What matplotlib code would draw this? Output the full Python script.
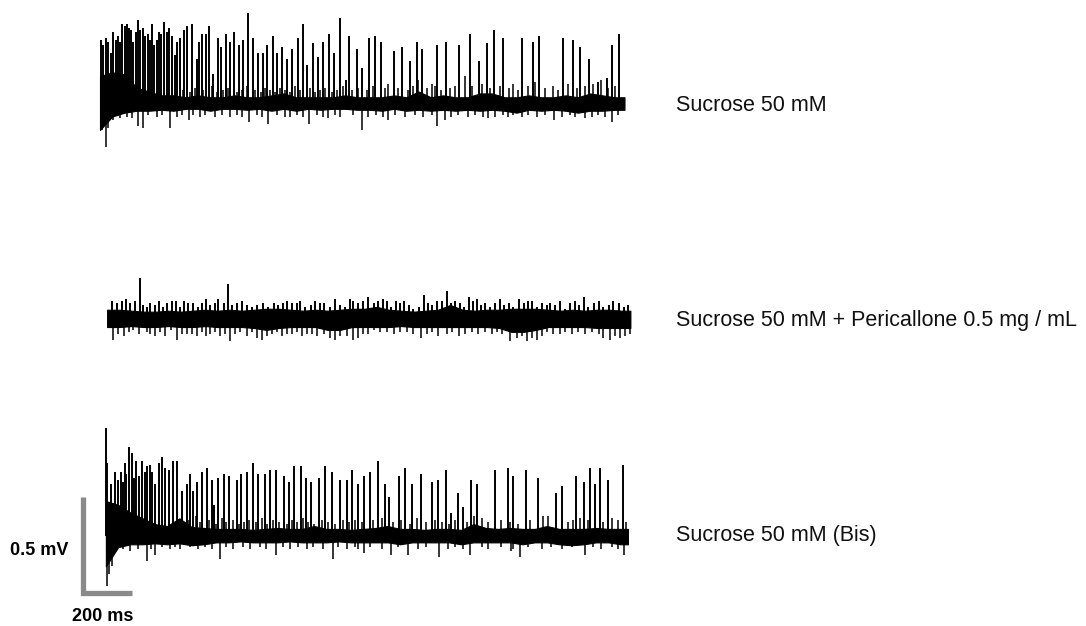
import numpy as np
import matplotlib.pyplot as plt

# ---- recordings (time in ms from start of sweep, amplitude in mV) ----

# solid noise core of each sweep, one value every 50 ms (0 .. 2100 ms)
env_t = np.arange(0, 2150, 50)

sucrose_hi = [0.14, 0.16, 0.15, 0.08, 0.06, 0.04, 0.04, 0.03, 0.04, 0.03, 0.03,
              0.04, 0.03, 0.03, 0.04, 0.05, 0.03, 0.03, 0.03, 0.03, 0.04, 0.03,
              0.03, 0.03, 0.04, 0.03, 0.06, 0.03, 0.04, 0.03, 0.03, 0.05, 0.05,
              0.03, 0.03, 0.04, 0.03, 0.03, 0.04, 0.03, 0.05, 0.04, 0.03]
sucrose_lo = [-0.14, -0.07, -0.05, -0.04, -0.04, -0.035, -0.04, -0.03, -0.03, -0.04, -0.03,
              -0.03, -0.035, -0.03, -0.04, -0.03, -0.04, -0.03, -0.035, -0.03, -0.03, -0.035,
              -0.035, -0.04, -0.03, -0.04, -0.035, -0.04, -0.035, -0.04, -0.035, -0.04, -0.035,
              -0.04, -0.05, -0.035, -0.04, -0.035, -0.04, -0.05, -0.04, -0.04, -0.035]

peri_hi = [0.045, 0.045, 0.04, 0.035, 0.035, 0.04, 0.035, 0.04, 0.045, 0.04, 0.045,
           0.04, 0.045, 0.05, 0.05, 0.045, 0.04, 0.045, 0.04, 0.045, 0.05, 0.05,
           0.06, 0.045, 0.04, 0.035, 0.04, 0.045, 0.07, 0.045, 0.04, 0.045, 0.045,
           0.05, 0.05, 0.05, 0.045, 0.04, 0.045, 0.04, 0.045, 0.045, 0.04]
peri_lo = [-0.045, -0.045, -0.04, -0.045, -0.045, -0.04, -0.045, -0.045, -0.04, -0.045, -0.045,
           -0.045, -0.05, -0.06, -0.05, -0.045, -0.045, -0.045, -0.06, -0.06, -0.045, -0.045,
           -0.045, -0.045, -0.04, -0.045, -0.045, -0.045, -0.045, -0.045, -0.045, -0.045, -0.05,
           -0.07, -0.07, -0.06, -0.045, -0.045, -0.045, -0.045, -0.05, -0.05, -0.05]

bis_hi = [0.18, 0.16, 0.12, 0.09, 0.06, 0.05, 0.09, 0.045, 0.04, 0.035, 0.035,
          0.035, 0.03, 0.035, 0.04, 0.035, 0.035, 0.05, 0.035, 0.035, 0.03,
          0.035, 0.04, 0.05, 0.035, 0.035, 0.03, 0.035, 0.035, 0.03, 0.06, 0.04,
          0.035, 0.04, 0.035, 0.035, 0.05, 0.035, 0.035, 0.035, 0.04, 0.035, 0.035]
bis_lo = [-0.16, -0.06, -0.045, -0.045, -0.04, -0.045, -0.04, -0.05, -0.045, -0.035, -0.035,
          -0.03, -0.035, -0.035, -0.035, -0.03, -0.035, -0.035, -0.035, -0.03, -0.035,
          -0.035, -0.035, -0.035, -0.045, -0.035, -0.035, -0.035, -0.035, -0.045, -0.035, -0.035,
          -0.035, -0.035, -0.045, -0.035, -0.035, -0.045, -0.05, -0.045, -0.035, -0.035, -0.045]

# spikes (peak time, peak amplitude)
sucrose_spk_t = [3, 14, 25, 34, 44, 54, 64, 75, 82, 91,
                 101, 109, 118, 128, 136, 146, 154, 163, 174, 184,
                 194, 204, 212, 222, 231, 241, 250, 262, 272, 282,
                 292, 306, 316, 326, 344, 356, 374, 394, 405, 415,
                 431, 445, 462, 480, 492, 513, 530, 548, 567, 585,
                 605, 623, 646, 664, 683, 704, 721, 741, 762, 782,
                 809, 830, 843, 868, 891, 909, 936, 956, 979, 1004,
                 1017, 1047, 1070, 1098, 1122, 1146, 1200, 1233, 1264, 1292,
                 1312, 1377, 1410, 1466, 1509, 1546, 1577, 1607, 1645, 1723,
                 1765, 1792, 1890, 1931, 1959, 1995, 2030, 2070, 2087, 2117]
sucrose_spk_v = [0.33, 0.30, 0.34, 0.32, 0.26, 0.37, 0.33, 0.35, 0.32, 0.41,
                 0.40, 0.41, 0.39, 0.38, 0.32, 0.37, 0.43, 0.38, 0.39, 0.35,
                 0.36, 0.33, 0.41, 0.30, 0.33, 0.37, 0.36, 0.42, 0.37, 0.39,
                 0.35, 0.25, 0.32, 0.34, 0.38, 0.40, 0.41, 0.23, 0.32, 0.36,
                 0.36, 0.40, 0.15, 0.34, 0.29, 0.36, 0.32, 0.37, 0.30, 0.33,
                 0.47, 0.34, 0.26, 0.26, 0.30, 0.35, 0.26, 0.29, 0.23, 0.28,
                 0.34, 0.41, 0.20, 0.31, 0.24, 0.32, 0.36, 0.26, 0.44, 0.12,
                 0.35, 0.28, 0.18, 0.34, 0.35, 0.32, 0.27, 0.29, 0.22, 0.32,
                 0.28, 0.30, 0.32, 0.30, 0.36, 0.22, 0.31, 0.38, 0.34, 0.34,
                 0.32, 0.35, 0.34, 0.33, 0.29, 0.23, 0.11, 0.13, 0.30, 0.36]
# small upward deflections riding on the noise
sucrose_up_t = [340, 367, 388, 422, 455, 476, 503, 524, 558, 578,
                598, 632, 655, 673, 694, 714, 734, 755, 775, 796,
                816, 857, 877, 898, 918, 945, 966, 993, 1027,
                1054, 1088, 1115, 1162, 1176, 1214, 1258, 1278, 1298, 1336,
                1356, 1366, 1391, 1428, 1448, 1489, 1519, 1557, 1591, 1632,
                1668, 1686, 1706, 1747, 1774, 1815, 1849, 1870, 1910, 1948,
                1978, 2012, 2046, 2074, 2101]
sucrose_up_v = [0.07, 0.06, 0.08, 0.07, 0.09, 0.06, 0.07, 0.08, 0.06, 0.07,
                0.09, 0.07, 0.06, 0.08, 0.07, 0.06, 0.08, 0.07, 0.06, 0.09,
                0.07, 0.08, 0.06, 0.07, 0.08, 0.06, 0.07, 0.09, 0.07,
                0.08, 0.07, 0.09, 0.08, 0.10, 0.08, 0.07, 0.09, 0.12, 0.08,
                0.10, 0.09, 0.07, 0.08, 0.09, 0.14, 0.09, 0.10, 0.08, 0.09,
                0.08, 0.10, 0.07, 0.09, 0.11, 0.08, 0.09, 0.07, 0.10, 0.08,
                0.09, 0.10, 0.12, 0.08, 0.09]
sucrose_dip_t = [7, 23, 34, 55, 82, 109, 129, 156, 177, 197, 231, 251, 286, 313,
                 333, 363, 381, 408, 428, 469, 496, 530, 558, 578, 608, 639, 660,
                 684, 721, 755, 775, 802, 830, 853, 884, 911, 932, 959, 979, 1033,
                 1070, 1094, 1128, 1156, 1176, 1203, 1244, 1285, 1319, 1353, 1373,
                 1407, 1434, 1462, 1502, 1530, 1564, 1584, 1611, 1645, 1666, 1686,
                 1720, 1747, 1781, 1815, 1852, 1883, 1917, 1938, 1978, 2006, 2033,
                 2060, 2087, 2114]
sucrose_dip_v = [-0.14, -0.23, -0.13, -0.09, -0.08, -0.07, -0.08, -0.12, -0.13, -0.06, -0.07, -0.06, -0.13, -0.07,
                 -0.06, -0.09, -0.06, -0.07, -0.06, -0.07, -0.06, -0.07, -0.06, -0.07, -0.10, -0.06, -0.07,
                 -0.11, -0.06, -0.07, -0.07, -0.06, -0.07, -0.11, -0.06, -0.07, -0.08, -0.06, -0.07, -0.06,
                 -0.14, -0.07, -0.06, -0.07, -0.09, -0.06, -0.07, -0.06, -0.07, -0.06, -0.12,
                 -0.09, -0.07, -0.06, -0.07, -0.06, -0.07, -0.08, -0.07, -0.06, -0.07, -0.06,
                 -0.07, -0.06, -0.07, -0.06, -0.09, -0.07, -0.06, -0.07, -0.08, -0.07, -0.06,
                 -0.07, -0.10, -0.06]

peri_spk_t = [19, 39, 60, 77, 94, 114, 135, 145, 162, 175,
              196, 213, 230, 243, 264, 281, 298, 314, 332, 350,
              369, 386, 404, 420, 441, 454, 475, 495, 509, 529,
              549, 570, 590, 611, 638, 658, 679, 699, 717, 733,
              753, 774, 787, 808, 831, 849, 869, 883, 910, 930,
              951, 971, 989, 1005, 1025, 1046, 1066,
              1087, 1107, 1124, 1141, 1159, 1178, 1196, 1213, 1230, 1250,
              1271, 1295, 1311, 1325, 1345, 1366, 1386, 1404, 1420, 1441,
              1458, 1475, 1491, 1509, 1526, 1543, 1563, 1583, 1604, 1621,
              1641, 1658, 1679, 1699, 1719, 1733, 1753, 1774, 1794, 1808,
              1828, 1849, 1869, 1889, 1910, 1926, 1944, 1964, 1985, 2005,
              2025, 2046, 2066, 2087, 2107, 2127]
peri_spk_v = [0.09, 0.08, 0.09, 0.10, 0.08, 0.09, 0.21, 0.07, 0.06, 0.08,
              0.07, 0.09, 0.06, 0.08, 0.09, 0.09, 0.06, 0.09, 0.08, 0.08,
              0.06, 0.08, 0.10, 0.07, 0.08, 0.10, 0.08, 0.18, 0.07, 0.08,
              0.09, 0.07, 0.06, 0.07, 0.08, 0.06, 0.08, 0.07, 0.08, 0.09,
              0.08, 0.08, 0.09, 0.06, 0.07, 0.09, 0.08, 0.08, 0.06, 0.10,
              0.07, 0.06, 0.10, 0.09, 0.08, 0.09, 0.11,
              0.08, 0.09, 0.10, 0.09, 0.06, 0.09, 0.08, 0.09, 0.07, 0.05,
              0.06, 0.12, 0.08, 0.07, 0.09, 0.09, 0.14, 0.08, 0.09, 0.08,
              0.06, 0.11, 0.09, 0.10, 0.07, 0.08, 0.06, 0.08, 0.10, 0.07,
              0.08, 0.06, 0.10, 0.08, 0.09, 0.09, 0.06, 0.08, 0.07, 0.08,
              0.07, 0.09, 0.05, 0.08, 0.09, 0.07, 0.11, 0.06, 0.08, 0.09,
              0.06, 0.07, 0.09, 0.08, 0.06, 0.07]
peri_up_t = []
peri_up_v = []
peri_dip_t = [23, 46, 69, 91, 107, 132, 162, 175, 196, 216,
              237, 260, 287, 305, 325, 345, 366, 386, 404, 420,
              441, 461, 481, 502, 522, 543, 570, 590, 611, 631,
              651, 672, 692, 713, 733, 753, 774, 794, 815, 835,
              855, 883, 910, 930, 951, 978, 1005, 1025, 1046, 1066,
              1087, 1114, 1141, 1169, 1196, 1223, 1250, 1281, 1305, 1325,
              1352, 1386, 1407, 1434, 1461, 1488, 1515, 1543, 1570, 1590,
              1611, 1645, 1672, 1692, 1713, 1733, 1753, 1774, 1794, 1821,
              1849, 1869, 1896, 1923, 1951, 1978, 2005, 2025, 2053, 2073,
              2093, 2114, 2134]
peri_dip_v = [-0.11, -0.08, -0.09, -0.07, -0.06, -0.08, -0.07, -0.08, -0.09, -0.07,
              -0.09, -0.06, -0.11, -0.08, -0.08, -0.08, -0.09, -0.07, -0.09, -0.08,
              -0.07, -0.09, -0.08, -0.12, -0.08, -0.07, -0.09, -0.07, -0.10, -0.11,
              -0.09, -0.08, -0.07, -0.09, -0.08, -0.08, -0.07, -0.09, -0.08, -0.08,
              -0.09, -0.08, -0.10, -0.11, -0.09, -0.09, -0.11, -0.10, -0.08, -0.08,
              -0.06, -0.07, -0.07, -0.08, -0.07, -0.07, -0.08, -0.10, -0.08, -0.07,
              -0.09, -0.08, -0.07, -0.09, -0.08, -0.07, -0.08, -0.07, -0.08, -0.07,
              -0.08, -0.12, -0.10, -0.09, -0.12, -0.10, -0.11, -0.09, -0.07, -0.08,
              -0.08, -0.07, -0.08, -0.07, -0.08, -0.07, -0.08, -0.10, -0.11, -0.09,
              -0.10, -0.09, -0.08]

bis_spk_t = [0, 3, 19, 37, 48, 60, 68, 78, 84, 94,
             105, 114, 124, 135, 148, 159, 169, 180, 188, 200,
             215, 227, 243, 258, 275, 291, 309, 329, 343, 356,
             372, 394, 411, 431, 441, 458, 483, 502, 533, 553,
             574, 601, 621, 649, 669, 696, 728, 748, 767, 798,
             816, 835, 870, 893, 921, 955, 982, 1005, 1030, 1054,
             1079, 1111, 1138, 1155, 1197, 1220, 1251, 1285, 1329, 1356,
             1387, 1410, 1438, 1457, 1491, 1515, 1587, 1639, 1662, 1714,
             1764, 1836, 1859, 1918, 1952, 1975, 1995, 2018, 2047, 2108]
bis_spk_v = [0.56, 0.38, 0.27, 0.33, 0.29, 0.33, 0.28, 0.38, 0.32, 0.46,
             0.43, 0.30, 0.39, 0.31, 0.39, 0.33, 0.36, 0.37, 0.33, 0.27,
             0.38, 0.41, 0.35, 0.34, 0.39, 0.39, 0.23, 0.27, 0.32, 0.23,
             0.28, 0.33, 0.35, 0.29, 0.16, 0.30, 0.32, 0.31, 0.29, 0.32,
             0.33, 0.38, 0.32, 0.32, 0.34, 0.34, 0.31, 0.28, 0.36, 0.36,
             0.30, 0.28, 0.30, 0.36, 0.33, 0.29, 0.29, 0.34, 0.27, 0.31,
             0.33, 0.39, 0.27, 0.20, 0.31, 0.35, 0.27, 0.32, 0.28, 0.29,
             0.34, 0.12, 0.22, 0.15, 0.29, 0.27, 0.34, 0.35, 0.31, 0.34,
             0.30, 0.22, 0.26, 0.31, 0.28, 0.35, 0.27, 0.35, 0.29, 0.37]
bis_up_t = [336, 367, 386, 422, 449, 472, 492, 517, 544, 563,
            585, 612, 635, 658, 680, 707, 737, 758, 781, 805,
            826, 849, 880, 907, 934, 966, 993, 1016,
            1043, 1091, 1125, 1172, 1206, 1240, 1268, 1308, 1342, 1372,
            1400, 1424, 1472, 1503, 1533, 1560, 1614, 1648, 1682, 1730,
            1784, 1805, 1886, 1907, 1934, 1968, 2029, 2063, 2090, 2124]
bis_up_v = [0.08, 0.10, 0.07, 0.08, 0.06, 0.09, 0.07, 0.08, 0.06, 0.07,
            0.08, 0.07, 0.09, 0.06, 0.08, 0.07, 0.06, 0.08, 0.07, 0.09,
            0.07, 0.06, 0.08, 0.07, 0.06, 0.08, 0.07, 0.08,
            0.07, 0.08, 0.09, 0.07, 0.08, 0.06, 0.09, 0.07, 0.08, 0.07,
            0.06, 0.08, 0.07, 0.10, 0.09, 0.07, 0.08, 0.07, 0.06, 0.08,
            0.10, 0.10, 0.07, 0.08, 0.09, 0.08, 0.07, 0.09, 0.08, 0.07]
bis_dip_t = [3, 12, 23, 43, 71, 98, 132, 166, 186, 200, 227, 261, 281, 302,
             343, 377, 404, 431, 465, 492, 519, 560, 588, 628, 655, 696, 723,
             751, 785, 819, 846, 887, 928, 948, 982, 1016,
             1030, 1054, 1077, 1125, 1163, 1193, 1234, 1274, 1308, 1360, 1397,
             1424, 1458, 1485, 1533, 1560, 1614, 1651, 1662, 1691, 1723, 1778,
             1818, 1859, 1900, 1954, 1988, 2022, 2063, 2090, 2115]
bis_dip_v = [-0.26, -0.20, -0.16, -0.08, -0.07, -0.08, -0.07, -0.13, -0.07, -0.10, -0.06, -0.07, -0.06, -0.07,
             -0.06, -0.07, -0.06, -0.07, -0.12, -0.06, -0.07, -0.06, -0.07, -0.06, -0.07, -0.10, -0.06,
             -0.07, -0.06, -0.07, -0.06, -0.07, -0.12, -0.06, -0.07, -0.06,
             -0.07, -0.09, -0.06, -0.07, -0.10, -0.06, -0.10, -0.07, -0.06, -0.11, -0.07,
             -0.06, -0.07, -0.10, -0.06, -0.07, -0.06, -0.08, -0.07, -0.11, -0.06, -0.07,
             -0.06, -0.07, -0.06, -0.10, -0.06, -0.07, -0.06, -0.07, -0.10]

labels = ["Sucrose 50 mM",
          "Sucrose 50 mM + Pericallone 0.5 mg / mL",
          "Sucrose 50 mM (Bis)"]

# ---- layout ----
W, H = 1086, 626
sweep_start = [0, 29, 24]          # ms, horizontal shift of each sweep
sweep_end = [2140, 2135, 2130]
sweep_base = [0.0, -1.12, -2.25]   # mV, vertical offset of each sweep
label_y = [111, 326, 541]          # px, text baseline

plt.rcParams['font.family'] = ['Liberation Sans', 'DejaVu Sans']

fig = plt.figure(figsize=(W / 100, H / 100), dpi=100)
ax = fig.add_axes([0, 0, 1, 1])
ax.set_xlim(-408, 4023)
ax.set_ylim(-2.72, 0.536)
ax.axis('off')

sweeps = [
    (sucrose_hi, sucrose_lo, sucrose_spk_t, sucrose_spk_v,
     sucrose_up_t, sucrose_up_v, sucrose_dip_t, sucrose_dip_v),
    (peri_hi, peri_lo, peri_spk_t, peri_spk_v,
     peri_up_t, peri_up_v, peri_dip_t, peri_dip_v),
    (bis_hi, bis_lo, bis_spk_t, bis_spk_v,
     bis_up_t, bis_up_v, bis_dip_t, bis_dip_v),
]

for i, (hi, lo, sp_t, sp_v, up_t, up_v, dp_t, dp_v) in enumerate(sweeps):
    t0 = sweep_start[i]
    b = sweep_base[i]
    tt = np.append(env_t, sweep_end[i]) + t0
    ax.fill_between(tt, b + np.append(lo, lo[-1]), b + np.append(hi, hi[-1]),
                    color='black', lw=0.8)
    ax.vlines(np.array(up_t) + t0, b, b + np.array(up_v), color='black', lw=1.1)
    ax.vlines(np.array(dp_t) + t0, b, b + np.array(dp_v), color='black', lw=1.1)
    ax.vlines(np.array(sp_t) + t0, b, b + np.array(sp_v), color='black', lw=1.4)
    fig.text(676 / W, 1 - label_y[i] / H, labels[i], fontsize=15.5,
             ha='left', va='baseline', color='#111111')

# scale bar: 0.5 mV / 200 ms
sb_t, sb_v = -71, -2.55
ax.plot([sb_t, sb_t, sb_t + 200], [sb_v + 0.5, sb_v, sb_v],
        color='#8a8a8a', lw=3.8, solid_capstyle='butt', solid_joinstyle='miter')
fig.text(10 / W, 1 - 555 / H, "0.5 mV", fontsize=13, fontweight='bold',
         ha='left', va='baseline')
fig.text(72 / W, 1 - 621 / H, "200 ms", fontsize=13, fontweight='bold',
         ha='left', va='baseline')

fig.savefig("out.png", dpi=100)
